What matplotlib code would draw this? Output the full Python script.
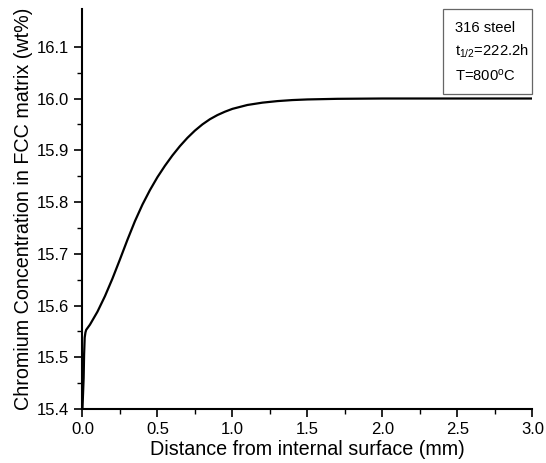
import matplotlib
matplotlib.use("Agg")
import matplotlib.pyplot as plt
from matplotlib.ticker import FixedLocator
from matplotlib.patches import Rectangle

plt.rcParams['font.family'] = ['Liberation Sans', 'DejaVu Sans']

# Curve
distance_mm = [0.0, 0.004, 0.008, 0.011, 0.015, 0.02, 0.025, 0.05, 0.10, 0.15, 0.20,
               0.25, 0.30, 0.35, 0.40, 0.45, 0.50, 0.55, 0.60, 0.65, 0.70, 0.75,
               0.80, 0.85, 0.90, 0.95, 1.00, 1.10, 1.20, 1.30, 1.40, 1.50, 1.70,
               2.00, 2.50, 3.00]
chromium_wt = [15.400, 15.430, 15.460, 15.505, 15.538, 15.548, 15.553, 15.563, 15.588, 15.618, 15.652,
               15.689, 15.727, 15.763, 15.795, 15.823, 15.848, 15.870, 15.890, 15.908, 15.924, 15.938,
               15.950, 15.960, 15.968, 15.9745, 15.980, 15.9875, 15.992, 15.995, 15.997, 15.9982, 15.9994,
               16.000, 16.000, 16.000]

x_ticks = [0.0, 0.5, 1.0, 1.5, 2.0, 2.5, 3.0]
y_ticks = [15.4, 15.5, 15.6, 15.7, 15.8, 15.9, 16.0, 16.1]
x_minor = [0.25, 0.75, 1.25, 1.75, 2.25, 2.75]
y_minor = [15.45, 15.55, 15.65, 15.75, 15.85, 15.95, 16.05]

fig = plt.figure(figsize=(5.46, 4.63), dpi=100)
ax = fig.add_axes([0.151, 0.1166, 0.824, 0.864])
ax.plot(distance_mm, chromium_wt, color='black', lw=1.6, solid_joinstyle='round')

ax.set_xlim(0, 3.0)
ax.set_ylim(15.4, 16.173)
ax.set_xticks(x_ticks)
ax.set_yticks(y_ticks)
ax.xaxis.set_minor_locator(FixedLocator(x_minor))
ax.yaxis.set_minor_locator(FixedLocator(y_minor))
ax.set_xticklabels([f"{v:.1f}" for v in x_ticks])
ax.set_yticklabels([f"{v:.1f}" for v in y_ticks])
ax.tick_params(which='major', direction='out', length=6, width=1.2, labelsize=12)
ax.tick_params(which='minor', direction='out', length=3.5, width=1.0)
for s in ['top', 'right']:
    ax.spines[s].set_visible(False)
for s in ['left', 'bottom']:
    ax.spines[s].set_linewidth(1.5)

ax.set_xlabel('Distance from internal surface (mm)', fontsize=14.2, labelpad=2)
ax.set_ylabel('Chromium Concentration in FCC matrix (wt%)', fontsize=14.2, labelpad=3)

ax.add_patch(Rectangle((0.802, 0.7875), 0.197, 0.2115, transform=ax.transAxes,
                       fc='white', ec='#666666', lw=0.9, clip_on=False, zorder=5))
box_lines = ["316 steel", "t$\\mathregular{_{1/2}}$=222.2h", "T=800$\\mathregular{^{o}}$C"]
box_y = [0.943, 0.8825, 0.821]
for txt, yy in zip(box_lines, box_y):
    ax.text(0.828, yy, txt, transform=ax.transAxes, ha='left', va='baseline',
            fontsize=10.6, zorder=6)

fig.savefig('out.png', dpi=100)
